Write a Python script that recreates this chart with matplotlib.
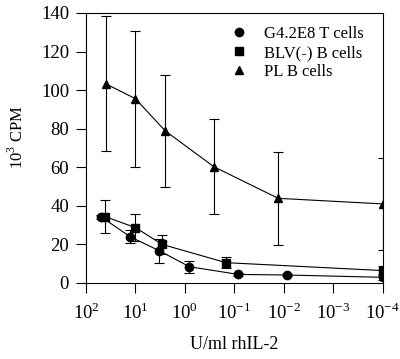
import matplotlib
matplotlib.use("Agg")
import matplotlib.pyplot as plt
from matplotlib.lines import Line2D
import numpy as np

plt.rcParams['font.family'] = ['Liberation Serif', 'DejaVu Serif']
plt.rcParams['mathtext.fontset'] = 'custom'
plt.rcParams['mathtext.rm'] = 'Liberation Serif'

# Data (U/ml rhIL-2 vs 10^3 CPM)
t_x = [50, 12.9, 3.3, 0.81, 0.083, 0.0087, 1e-4]
t_y = [34.3, 23.9, 16.6, 8.3, 4.3, 4.0, 2.8]
t_err = [1.0, 3.5, 6.2, 3.1, 0.8, 0.5, 1.5]

b_x = [41, 10, 2.9, 0.147, 1e-4]
b_y = [34.3, 28.6, 19.9, 10.4, 6.3]
b_err = [8.4, 7.1, 4.9, 2.7, 2.5]

p_x = [39.4, 10, 2.5, 0.26, 0.013, 1e-4]
p_y = [103.2, 95.5, 78.8, 60.2, 43.8, 40.9]
p_err = [35.0, 35.2, 29.0, 24.6, 24.1, 23.8]

labels = ["G4.2E8 T cells", "BLV(-) B cells", "PL B cells"]
xticks = [1e2, 1e1, 1e0, 1e-1, 1e-2, 1e-3, 1e-4]
xticklabels = [r"$10^{2}$", r"$10^{1}$", r"$10^{0}$", r"$10^{-1}$", r"$10^{-2}$", r"$10^{-3}$", r"$10^{-4}$"]
yticks = [0, 20, 40, 60, 80, 100, 120, 140]

fig = plt.figure(figsize=(4.0, 3.59), dpi=100)
ax = fig.add_axes([0.215, 0.2125, 0.742, 0.7513])

ekw = dict(color='black', lw=0.8, elinewidth=0.8, capsize=3.8, capthick=0.8)
ax.errorbar(t_x, t_y, yerr=t_err, marker='o', ms=6, **ekw)
ax.errorbar(b_x, b_y, yerr=b_err, marker='s', ms=5.3, **ekw)
ax.errorbar(p_x, p_y, yerr=p_err, marker='^', ms=6, **ekw)

ax.set_xscale('log')
ax.set_xlim(1e2, 1e-4)
ax.set_ylim(0, 140)
ax.set_xticks(xticks)
ax.set_xticklabels(xticklabels)
ax.xaxis.set_minor_locator(matplotlib.ticker.NullLocator())
ax.set_yticks(yticks)
ax.tick_params(axis='both', direction='out', length=7.2, width=0.8, labelsize=13.5)
ax.tick_params(axis='x', pad=7)
ax.tick_params(axis='y', pad=5)
for s in ax.spines.values():
    s.set_linewidth(0.8)

ax.set_xlabel("U/ml rhIL-2", fontsize=13, labelpad=9)
ax.set_ylabel(r"$10^{3}$ CPM", fontsize=12)
ax.yaxis.set_label_coords(-0.2, 0.54)

handles = [Line2D([], [], color='black', ls='none', marker=m, ms=s)
           for m, s in zip(['o', 's', '^'], [6, 5.3, 6])]
ax.legend(handles, labels, loc='upper left', bbox_to_anchor=(0.447, 0.995),
          frameon=False, fontsize=12, handlelength=1.0, handletextpad=1.0,
          labelspacing=0.18, borderpad=0.2)

fig.savefig("out.png", dpi=100)
